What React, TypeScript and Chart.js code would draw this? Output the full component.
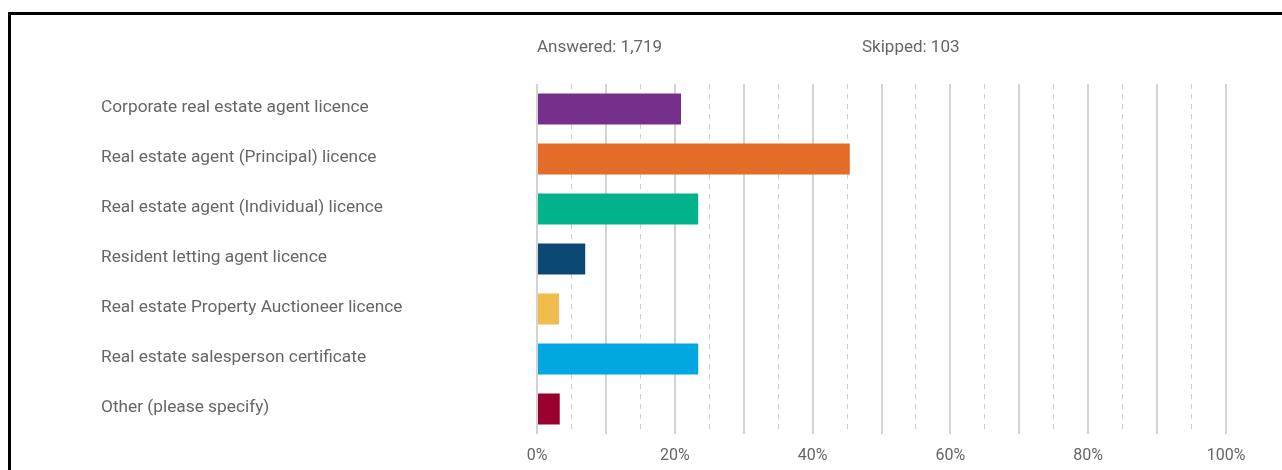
import React, { useEffect, useRef } from "react";
import { Chart, registerables } from "chart.js";

Chart.register(...registerables);

const categories = [
  "Corporate real estate agent licence",
  "Real estate agent (Principal) licence",
  "Real estate agent (Individual) licence",
  "Resident letting agent licence",
  "Real estate Property Auctioneer licence",
  "Real estate salesperson certificate",
  "Other (please specify)",
];
const values = [20.9, 45.4, 23.4, 7.0, 3.2, 23.4, 3.3];
const barColors = ["#76308B", "#E36C29", "#00B38A", "#0B4874", "#F0BD4C", "#00A7E1", "#99002F"];
const headerTexts = ["Answered: 1,719", "Skipped: 103"];
const minorTicks = [5, 15, 25, 35, 45, 55, 65, 75, 85, 95];

const FONT = 'Roboto, "Noto Sans", sans-serif';
const TEXT = "#666666";

const headerPlugin = {
  id: "headerTexts",
  afterDraw(chart: any) {
    const { ctx, chartArea } = chart;
    ctx.save();
    ctx.font = `17px ${FONT}`;
    ctx.fillStyle = TEXT;
    ctx.textBaseline = "middle";
    ctx.textAlign = "left";
    const y = chartArea.top - 36;
    ctx.fillText(headerTexts[0], chartArea.left, y);
    ctx.fillText(headerTexts[1], chartArea.left + 325, y);
    ctx.restore();
  },
};

export default function App() {
  const ref = useRef<HTMLCanvasElement | null>(null);
  useEffect(() => {
    if (!ref.current) return;
    const chart = new Chart(ref.current, {
      type: "bar",
      data: {
        labels: categories,
        datasets: [
          {
            data: values,
            backgroundColor: barColors,
            borderWidth: 0,
            barPercentage: 0.62,
            categoryPercentage: 1,
          },
        ],
      },
      options: {
        indexAxis: "y",
        responsive: false,
        animation: false,
        layout: { padding: { left: 90, top: 69, right: 56, bottom: 0 } },
        plugins: { legend: { display: false }, tooltip: { enabled: false } },
        scales: {
          x: {
            type: "linear",
            position: "bottom",
            min: 0,
            max: 100,
            ticks: {
              stepSize: 10,
              autoSkip: false,
              maxRotation: 0,
              padding: 12,
              color: TEXT,
              font: { family: FONT, size: 16 },
              callback: (v: any) => (Number(v) % 20 === 0 ? `${v}%` : ""),
            },
            grid: { color: "#d3d3d3", lineWidth: 2, drawTicks: false },
            border: { display: false },
            afterFit: (axis: any) => {
              axis.height = 36;
            },
          },
          x2: {
            type: "linear",
            position: "bottom",
            min: 0,
            max: 100,
            afterBuildTicks: (axis: any) => {
              axis.ticks = minorTicks.map((value) => ({ value }));
            },
            ticks: { display: false },
            grid: { color: "#cfcfcf", lineWidth: 1, drawTicks: false },
            border: { display: false, dash: [5, 5] },
            afterFit: (axis: any) => {
              axis.height = 0;
            },
          },
          y: {
            type: "category",
            grid: { display: false },
            border: { display: false },
            ticks: {
              crossAlign: "far",
              padding: 0,
              labelOffset: -1,
              color: TEXT,
              font: { family: FONT, size: 17.3 },
            },
            afterFit: (axis: any) => {
              axis.width = 436;
            },
          },
        },
      },
      plugins: [headerPlugin],
    } as any);
    return () => chart.destroy();
  }, []);

  return (
    <div style={{ position: "absolute", left: 0, top: 0, width: 1282, height: 470, overflow: "hidden", background: "#fff" }}>
      <div
        style={{
          position: "absolute",
          left: 8,
          top: 12,
          right: 0,
          bottom: 0,
          borderTop: "3px solid #000",
          borderLeft: "3px solid #000",
        }}
      >
        <canvas ref={ref} width={1271} height={455} style={{ display: "block", width: 1271, height: 455 }} />
      </div>
    </div>
  );
}
